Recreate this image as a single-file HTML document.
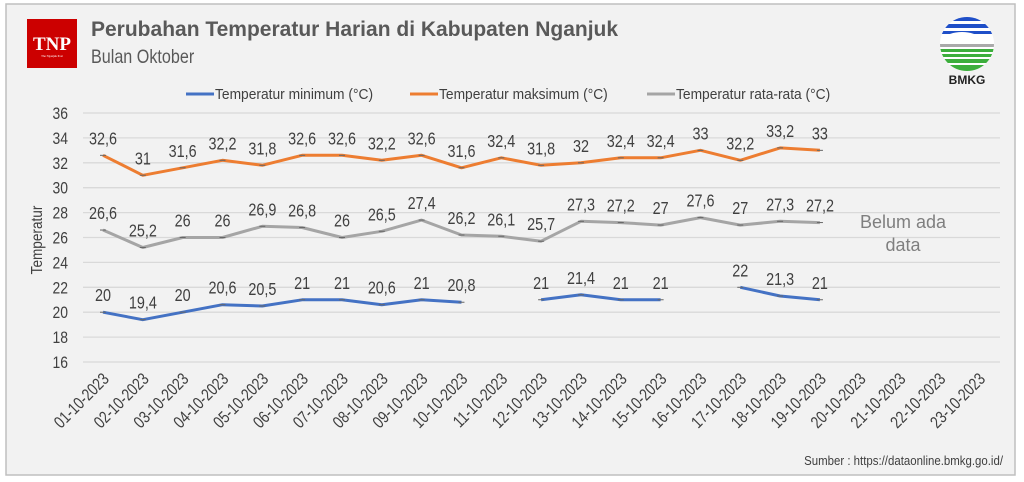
<!DOCTYPE html>
<html><head><meta charset="utf-8"><style>
body{margin:0;background:#fff;}
svg{display:block;font-family:"Liberation Sans",sans-serif;}
</style></head><body>
<svg width="1024" height="482" xmlns="http://www.w3.org/2000/svg">
<rect x="6" y="4" width="1009" height="471" fill="#f2f2f2" stroke="#bfbfbf" stroke-width="1.5"/>
<rect x="27" y="19" width="50" height="49" fill="#cc0000"/>
<text x="52" y="50" text-anchor="middle" font-family="Liberation Serif,serif" font-weight="bold" font-size="19" fill="#fff">TNP</text>
<text x="52" y="57" text-anchor="middle" font-family="Liberation Serif,serif" font-size="3" fill="#fff">The Nganjuk Post</text>
<text transform="translate(91,36)" font-weight="bold" font-size="21" fill="#595959">Perubahan Temperatur Harian di Kabupaten Nganjuk</text>
<text transform="translate(91,63) scale(0.85,1)" font-size="19" fill="#595959">Bulan Oktober</text>
<g>
<clipPath id="c"><circle cx="967" cy="44" r="27"/></clipPath>
<g clip-path="url(#c)">
<rect x="940" y="17" width="54" height="54" fill="#fff"/>
<rect x="940" y="17" width="54" height="4" fill="#1f4fc8"/>
<rect x="940" y="24" width="54" height="4" fill="#1f4fc8"/>
<rect x="940" y="31" width="54" height="3" fill="#1f4fc8"/>
<ellipse cx="962" cy="38" rx="16" ry="6" fill="#fff"/>
<rect x="940" y="44" width="54" height="3" fill="#aaa"/>
<rect x="940" y="49" width="54" height="3" fill="#3cae3c"/>
<rect x="940" y="54" width="54" height="3" fill="#3cae3c"/>
<rect x="940" y="59" width="54" height="4" fill="#3cae3c"/>
<rect x="940" y="65" width="54" height="6" fill="#3cae3c"/>
</g>
<text x="967" y="84" text-anchor="middle" font-weight="bold" font-size="12" fill="#222">BMKG</text>
</g>
<g font-size="15" fill="#404040">
<line x1="186" y1="94" x2="214" y2="94" stroke="#4472c4" stroke-width="3"/><text transform="translate(215,99) scale(0.92,1)">Temperatur minimum (°C)</text>
<line x1="410" y1="94" x2="438" y2="94" stroke="#ed7d31" stroke-width="3"/><text transform="translate(439,99) scale(0.92,1)">Temperatur maksimum (°C)</text>
<line x1="647" y1="94" x2="675" y2="94" stroke="#a5a5a5" stroke-width="3"/><text transform="translate(676,99) scale(0.92,1)">Temperatur rata-rata (°C)</text>
</g>
<g id="grid" stroke="#d9d9d9" stroke-width="1.3"></g>
<g id="yl" font-size="17" fill="#404040" text-anchor="end"></g>
<text transform="translate(42,240) rotate(-90) scale(0.85,1)" text-anchor="middle" font-size="16" fill="#404040">Temperatur</text>
<g id="xl" font-size="17" fill="#404040" text-anchor="end"></g>
<g id="series"></g>
<text x="903" y="228" text-anchor="middle" font-size="18" fill="#7f7f7f">Belum ada</text>
<text x="903" y="251" text-anchor="middle" font-size="18" fill="#7f7f7f">data</text>
<text transform="translate(1003,465) scale(0.88,1)" text-anchor="end" font-size="13" fill="#404040">Sumber : https://dataonline.bmkg.go.id/</text>
</svg>
<script>
const NS="http://www.w3.org/2000/svg";
const Y=v=>113+(36-v)*12.45, X=i=>103+39.83*i;
function el(p,t,a,txt){const e=document.createElementNS(NS,t);for(const k in a)e.setAttribute(k,a[k]);if(txt!=null)e.textContent=txt;document.getElementById(p).appendChild(e);return e;}
for(let v=16;v<=36;v+=2){el("grid","line",{x1:83,x2:1000,y1:Y(v),y2:Y(v)});el("yl","text",{transform:`translate(68,${Y(v)+6}) scale(0.82,1)`},v);}
for(let i=0;i<23;i++){const d=String(i+1).padStart(2,"0")+"-10-2023";const x=X(i)+7,y=380;el("xl","text",{transform:`translate(${x},${y}) rotate(-45) scale(0.8,1)`},d);}
const mn=[20,19.4,20,20.6,20.5,21,21,20.6,21,20.8,null,21,21.4,21,21,null,22,21.3,21];
const mx=[32.6,31,31.6,32.2,31.8,32.6,32.6,32.2,32.6,31.6,32.4,31.8,32,32.4,32.4,33,32.2,33.2,33];
const av=[26.6,25.2,26,26,26.9,26.8,26,26.5,27.4,26.2,26.1,25.7,27.3,27.2,27,27.6,27,27.3,27.2];
function ser(d,c){let segs=[],cur=[];d.forEach((v,i)=>{if(v==null){if(cur.length)segs.push(cur);cur=[];}else cur.push(X(i).toFixed(1)+","+Y(v).toFixed(1));});if(cur.length)segs.push(cur);
segs.forEach(s=>el("series","polyline",{points:s.join(" "),fill:"none",stroke:c,"stroke-width":3,"stroke-linejoin":"round"}));
d.forEach((v,i)=>{if(v==null)return;el("series","line",{x1:X(i)-3,x2:X(i)+3,y1:Y(v),y2:Y(v),stroke:"#666","stroke-width":1});
el("series","text",{transform:`translate(${X(i)},${Y(v)-11}) scale(0.8,1)`,"text-anchor":"middle","font-size":18,fill:"#404040"},String(v).replace(".",","));});}
ser(mn,"#4472c4");ser(mx,"#ed7d31");ser(av,"#a5a5a5");
</script>
</body></html>
